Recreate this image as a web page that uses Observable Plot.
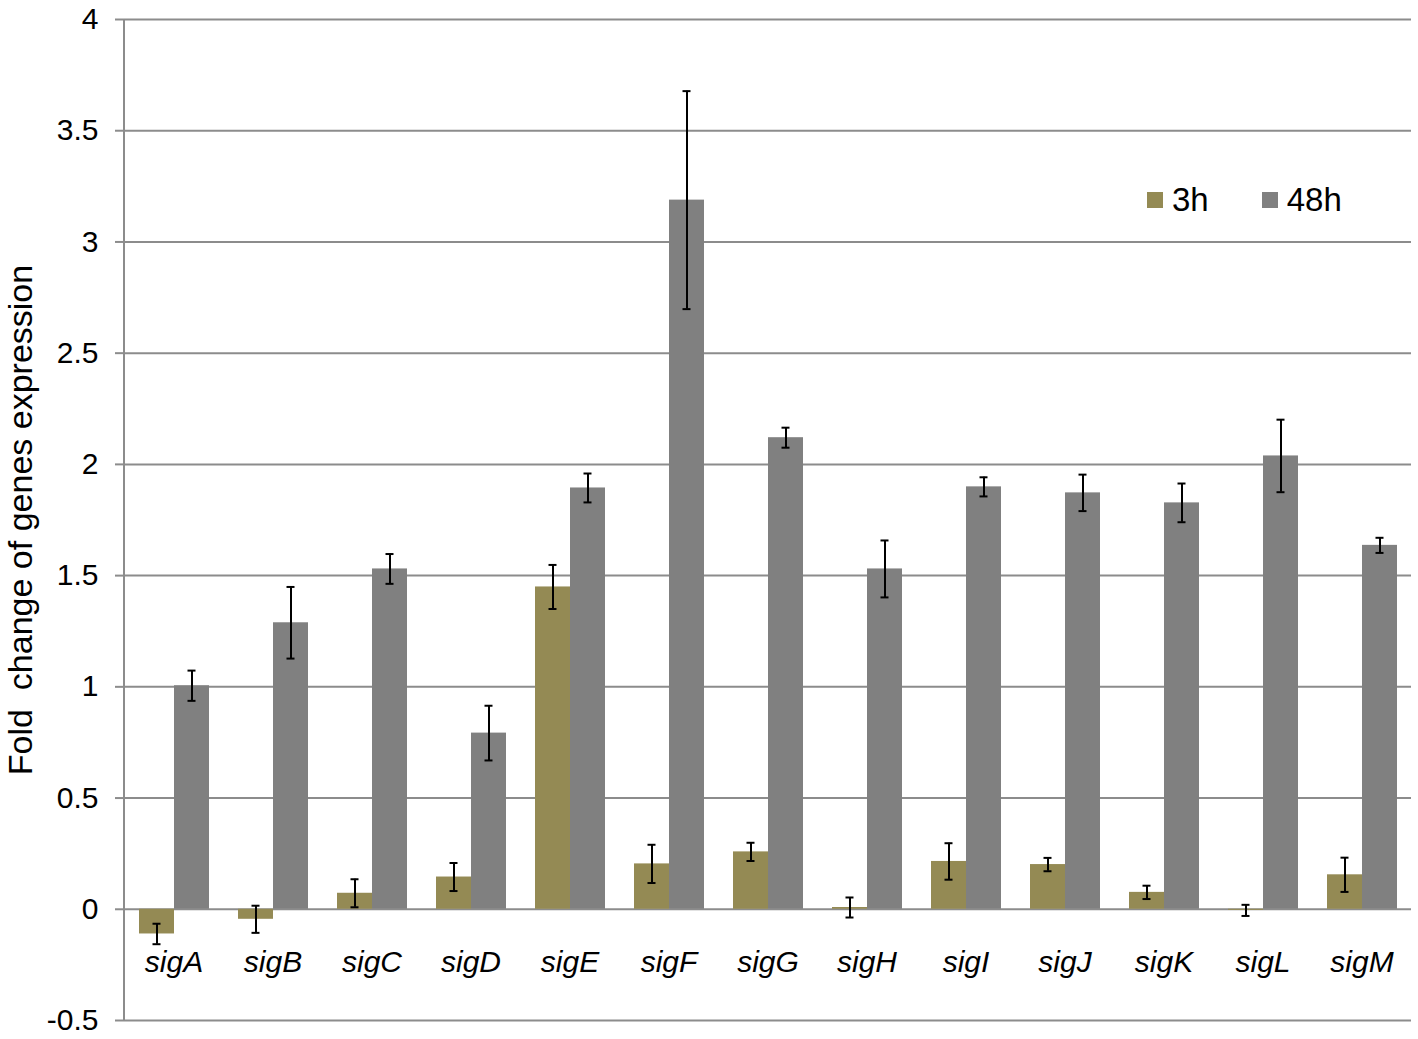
<!DOCTYPE html>
<html>
<head>
<meta charset="utf-8">
<script src="https://cdn.jsdelivr.net/npm/d3@7"></script>
<script src="https://cdn.jsdelivr.net/npm/@observablehq/plot@0.6"></script>
<style>
  html, body { margin: 0; padding: 0; background: #fff; overflow: hidden; }
  #wrap { position: relative; width: 1418px; height: 1039px; font-family: "Liberation Sans", Arial, sans-serif; }
  #wrap svg { display: block; max-width: none !important; }
  #legend { position: absolute; left: 1147px; top: 181px; display: flex; align-items: center; font-family: "Liberation Sans", Arial, sans-serif; font-size: 33px; color: #000; line-height: 38px; }
  .item { display: flex; align-items: center; margin-right: 53px; }
  .sw { width: 16px; height: 16px; margin-right: 9px; }
  g[aria-label="y-axis label"] text { font-size: 34px; }
</style>
</head>
<body>
<div id="wrap"><div id="legend"></div></div>
<script>
const genes = ["sigA","sigB","sigC","sigD","sigE","sigF","sigG","sigH","sigI","sigJ","sigK","sigL","sigM"];
const series = ["3h","48h"];
const colors = ["#948A54","#808080"];
const v3h  = [-0.111, -0.045, 0.072, 0.145, 1.449, 0.204, 0.258, 0.008, 0.215, 0.201, 0.076, -0.005, 0.155];
const e3h  = [0.046, 0.061, 0.063, 0.063, 0.099, 0.086, 0.041, 0.045, 0.082, 0.030, 0.030, 0.025, 0.077];
const v48h = [1.005, 1.288, 1.530, 0.792, 1.894, 3.188, 2.120, 1.530, 1.899, 1.872, 1.827, 2.038, 1.636];
const e48h = [0.068, 0.161, 0.067, 0.123, 0.065, 0.490, 0.045, 0.128, 0.043, 0.082, 0.087, 0.163, 0.034];
const yTicks = [-0.5, 0, 0.5, 1, 1.5, 2, 2.5, 3, 3.5, 4];

const rows = [];
genes.forEach((g, i) => {
  rows.push({gene: g, series: "3h", value: v3h[i], err: e3h[i]});
  rows.push({gene: g, series: "48h", value: v48h[i], err: e48h[i]});
});

const W = 1418, H = 1039, ML = 124, MR = 7, MT = 19, MB = 19;
const chart = Plot.plot({
  width: W,
  height: H,
  marginLeft: ML,
  marginRight: MR,
  marginTop: MT,
  marginBottom: MB,
  style: {fontFamily: "'Liberation Sans', Arial, sans-serif", background: "#fff", color: "#000"},
  fx: {domain: genes, padding: 0, axis: null},
  x: {domain: series, paddingInner: 0, paddingOuter: 0.393, axis: null},
  y: {domain: [-0.5, 4], axis: null},
  color: {domain: series, range: colors},
  marks: [
    Plot.ruleY(yTicks, {stroke: "#8c8c8c", strokeWidth: 2}),
    Plot.axisY({
      ticks: yTicks,
      tickFormat: d => String(d),
      tickSize: 9,
      tickPadding: 17,
      stroke: "#8c8c8c",
      strokeWidth: 2,
      fill: "#000",
      fontSize: 30,
      label: "Fold\u00a0 change of genes expression",
      labelAnchor: "center",
      labelOffset: 117,
      labelArrow: "none"
    }),
    Plot.barY(rows, {fx: "gene", x: "series", y: "value", fill: "series"}),
    Plot.ruleX(rows, {fx: "gene", x: "series", y1: d => d.value - d.err, y2: d => d.value + d.err, stroke: "#000", strokeWidth: 2}),
    Plot.tickY(rows, {fx: "gene", x: "series", y: d => d.value - d.err, stroke: "#000", strokeWidth: 2, insetLeft: 13.5, insetRight: 13.5}),
    Plot.tickY(rows, {fx: "gene", x: "series", y: d => d.value + d.err, stroke: "#000", strokeWidth: 2, insetLeft: 13.5, insetRight: 13.5}),
    Plot.text(genes, {fx: d => d, text: d => d, frameAnchor: "bottom", dy: -49, fontSize: 30, fontStyle: "italic", fill: "#000"})
  ]
});

// left axis line drawn from the y scale
const ys = chart.scale("y");
d3.select(chart).append("line")
  .attr("x1", ML).attr("x2", ML)
  .attr("y1", ys.apply(4)).attr("y2", ys.apply(-0.5))
  .attr("stroke", "#8c8c8c").attr("stroke-width", 2);

const wrap = document.getElementById("wrap");
wrap.insertBefore(chart, wrap.firstChild);

const legend = document.getElementById("legend");
series.forEach((s, i) => {
  const item = document.createElement("div");
  item.className = "item";
  const sw = document.createElement("div");
  sw.className = "sw";
  sw.style.background = colors[i];
  const t = document.createElement("span");
  t.textContent = s;
  item.appendChild(sw);
  item.appendChild(t);
  legend.appendChild(item);
});
</script>
</body>
</html>
